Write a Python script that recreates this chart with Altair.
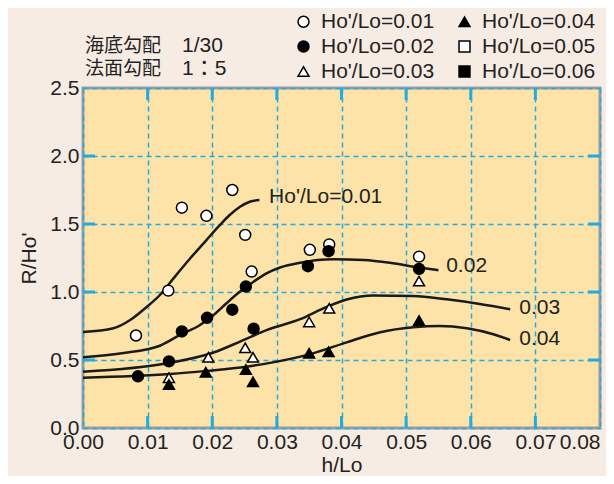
import altair as alt
import pandas as pd

# ---- data ----
series_names = ["Ho'/Lo=0.01", "Ho'/Lo=0.02", "Ho'/Lo=0.03", "Ho'/Lo=0.04", "Ho'/Lo=0.05", "Ho'/Lo=0.06"]

p01_x = [0.0082, 0.0132, 0.0153, 0.0191, 0.0231, 0.0251, 0.0261, 0.0351, 0.0381, 0.0520]
p01_y = [0.68, 1.01, 1.62, 1.56, 1.75, 1.42, 1.15, 1.31, 1.35, 1.26]
p02_x = [0.0085, 0.0133, 0.0153, 0.0192, 0.0231, 0.0252, 0.0264, 0.0348, 0.0380, 0.0520]
p02_y = [0.38, 0.49, 0.71, 0.81, 0.87, 1.04, 0.73, 1.19, 1.30, 1.17]
p03_x = [0.0133, 0.0194, 0.0251, 0.0263, 0.0350, 0.0381, 0.0520]
p03_y = [0.37, 0.52, 0.59, 0.52, 0.78, 0.88, 1.08]
p04_x = [0.0133, 0.0190, 0.0252, 0.0263, 0.0350, 0.0380, 0.0520]
p04_y = [0.32, 0.41, 0.43, 0.34, 0.55, 0.56, 0.79]

c01_x = [0.0, 0.0047, 0.0073, 0.0099, 0.0119, 0.0140, 0.0166, 0.0191, 0.0212, 0.0227, 0.0243, 0.0258, 0.0273]
c01_y = [0.705, 0.733, 0.794, 0.892, 0.978, 1.10, 1.248, 1.382, 1.493, 1.566, 1.627, 1.664, 1.676]
c02_x = [0.0, 0.0060, 0.0119, 0.0150, 0.0181, 0.0202, 0.0222, 0.0243, 0.0264, 0.0284, 0.0305,
         0.0336, 0.0387, 0.0434, 0.0475, 0.0520, 0.0550]
c02_y = [0.52, 0.55, 0.605, 0.684, 0.757, 0.831, 0.917, 1.003, 1.076, 1.137, 1.18,
         1.215, 1.24, 1.235, 1.215, 1.18, 1.16]
c03_x = [0.0, 0.0133, 0.0202, 0.0243, 0.0284, 0.0336, 0.0372, 0.0408, 0.0449, 0.0511, 0.0563, 0.0614, 0.0661]
c03_y = [0.414, 0.478, 0.555, 0.635, 0.72, 0.80, 0.88, 0.945, 0.975, 0.971, 0.946, 0.912, 0.873]
c04_x = [0.0, 0.0135, 0.0191, 0.0253, 0.0300, 0.0356, 0.0408, 0.0460, 0.0511, 0.0552, 0.0594, 0.0635, 0.0661]
c04_y = [0.37, 0.397, 0.42, 0.451, 0.488, 0.549, 0.630, 0.704, 0.740, 0.750, 0.733, 0.689, 0.647]

curve_labels = ["Ho'/Lo=0.01", "0.02", "0.03", "0.04"]
curve_label_x = [0.0288, 0.0562, 0.0675, 0.0675]
curve_label_y = [1.70, 1.19, 0.88, 0.655]

x_ticks = [0.0, 0.01, 0.02, 0.03, 0.04, 0.05, 0.06, 0.07, 0.08]
y_ticks = [0.0, 0.5, 1.0, 1.5, 2.0, 2.5]
x_inner = [0.01, 0.02, 0.03, 0.04, 0.05, 0.06, 0.07]
y_inner = [0.5, 1.0, 1.5, 2.0]

note_labels = ["海底勾配", "法面勾配"]
note_values = ["1/30", "1：5"]

# ---- tables ----
pts = pd.concat([
    pd.DataFrame({"x": p01_x, "y": p01_y, "s": series_names[0]}),
    pd.DataFrame({"x": p02_x, "y": p02_y, "s": series_names[1]}),
    pd.DataFrame({"x": p03_x, "y": p03_y, "s": series_names[2]}),
    pd.DataFrame({"x": p04_x, "y": p04_y, "s": series_names[3]}),
])
curves = pd.concat([
    pd.DataFrame({"x": c01_x, "y": c01_y, "c": "a"}),
    pd.DataFrame({"x": c02_x, "y": c02_y, "c": "b"}),
    pd.DataFrame({"x": c03_x, "y": c03_y, "c": "c"}),
    pd.DataFrame({"x": c04_x, "y": c04_y, "c": "d"}),
])
labs = pd.DataFrame({"x": curve_label_x, "y": curve_label_y, "t": curve_labels})

W, H = 517, 340
BLUE = "#22AAE2"
FONT = "Liberation Sans, Noto Sans CJK JP"
FS = 21

xs = alt.Scale(domain=[0, 0.08], nice=False, zero=False)
ys = alt.Scale(domain=[0, 2.5], nice=False, zero=False)

shape_range = ["circle", "circle", "triangle-up", "triangle-up", "square", "square"]
fill_range = ["white", "black", "white", "black", "white", "black"]
stroke_range = ["black"] * 6

x_axis = alt.Axis(values=x_ticks, format=".2f", title="h/Lo", grid=True, gridDash=[5, 4],
                  gridColor=BLUE, gridWidth=1.5, ticks=False, domain=False, labelFlush=False,
                  labelAlign=alt.ExprRef(expr="datum.value > 0.075 ? 'right' : 'center'"),
                  labelFontSize=FS, labelColor="#222", labelPadding=3, labelFont=FONT,
                  titleFontSize=FS, titleFontWeight="normal", titleColor="#222", titlePadding=2,
                  titleFont=FONT)
y_axis = alt.Axis(values=y_ticks, format=".1f", title="R/Ho'", grid=True, gridDash=[5, 4],
                  gridColor=BLUE, gridWidth=1.5, ticks=False, domain=False, labelFlush=False,
                  labelFontSize=FS, labelColor="#222", labelPadding=4, labelFont=FONT,
                  titleFontSize=FS, titleFontWeight="normal", titleColor="#222", titlePadding=10,
                  titleFont=FONT)

base_grid = alt.Chart(pd.DataFrame({"x": [0.0], "y": [0.0]})).mark_point(opacity=0).encode(
    x=alt.X("x:Q", scale=xs, axis=x_axis),
    y=alt.Y("y:Q", scale=ys, axis=y_axis),
)

tick_x = pd.DataFrame({"x": x_inner})
tick_y = pd.DataFrame({"y": y_inner})
tb = alt.Chart(tick_x).mark_rule(color=BLUE, strokeWidth=3).encode(
    x=alt.X("x:Q", scale=xs), y=alt.value(H), y2=alt.value(H - 12))
tt = alt.Chart(tick_x).mark_rule(color=BLUE, strokeWidth=3).encode(
    x=alt.X("x:Q", scale=xs), y=alt.value(0), y2=alt.value(12))
tl = alt.Chart(tick_y).mark_rule(color=BLUE, strokeWidth=3).encode(
    y=alt.Y("y:Q", scale=ys), x=alt.value(0), x2=alt.value(12))
tr = alt.Chart(tick_y).mark_rule(color=BLUE, strokeWidth=3).encode(
    y=alt.Y("y:Q", scale=ys), x=alt.value(W), x2=alt.value(W - 12))

lines = alt.Chart(curves).mark_line(color="#1a1a1a", strokeWidth=2.5, interpolate="monotone").encode(
    x=alt.X("x:Q", scale=xs),
    y=alt.Y("y:Q", scale=ys),
    detail="c:N",
)

leg = alt.Legend(title=None, orient="none", legendX=210, legendY=-77, columns=2,
                 columnPadding=19, rowPadding=3, padding=0,
                 symbolSize=120, symbolStrokeColor="black", symbolStrokeWidth=1.5,
                 labelFontSize=FS, labelColor="#222", labelFont=FONT, labelOffset=7,
                 labelLimit=220)

points = alt.Chart(pts).mark_point(filled=False, size=120, color="black", strokeWidth=1.5, opacity=1).encode(
    x=alt.X("x:Q", scale=xs),
    y=alt.Y("y:Q", scale=ys),
    shape=alt.Shape("s:N", scale=alt.Scale(domain=series_names, range=shape_range), legend=leg),
    fill=alt.Fill("s:N", scale=alt.Scale(domain=series_names, range=fill_range), legend=leg),
    stroke=alt.Stroke("s:N", scale=alt.Scale(domain=series_names, range=stroke_range), legend=leg),
)

curve_text = alt.Chart(labs).mark_text(align="left", baseline="middle", fontSize=FS,
                                       color="#222", font=FONT).encode(
    x=alt.X("x:Q", scale=xs),
    y=alt.Y("y:Q", scale=ys),
    text="t:N",
)

def note(t, xpix, ypix, size):
    return alt.Chart(pd.DataFrame({"t": [t]})).mark_text(
        align="left", baseline="middle", fontSize=size, color="#222", font=FONT).encode(
        text="t:N", x=alt.value(xpix), y=alt.value(ypix))

notes = [note(note_labels[0], 2, -42, 19), note(note_labels[1], 2, -19, 19),
         note(note_values[0], 99, -42, FS), note(note_values[1], 99, -19, FS)]

chart = alt.layer(base_grid, tb, tt, tl, tr, lines, points, curve_text, *notes).properties(
    width=W, height=H,
    autosize=alt.AutoSizeParams(type="none"),
    padding={"left": 75, "top": 80, "right": 6, "bottom": 48},
).configure(
    background="#F7ECE3",
).configure_view(
    fill="#FDE3A8", stroke="#9C9C9C", strokeWidth=3,
)

chart.save("out.html", embed_options={"renderer": "svg", "actions": False})
